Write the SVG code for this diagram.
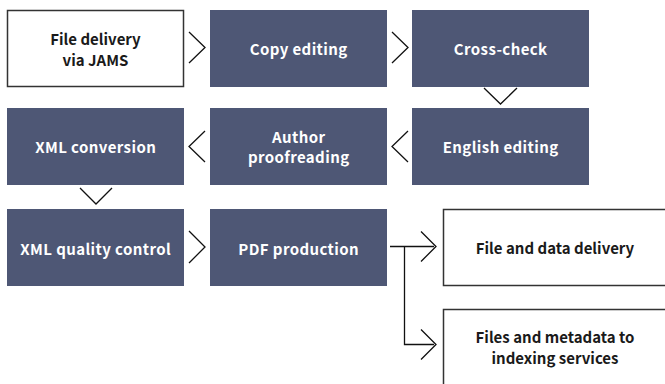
<svg xmlns="http://www.w3.org/2000/svg" width="665" height="384" viewBox="0 0 665 384">
<style>
.dark{fill:#4e5775}
.light{fill:#fff;stroke:#333;stroke-width:1.5}
text{font-family:"Noto Sans CJK JP","Noto Sans",sans-serif;font-weight:700;font-size:15px;text-anchor:middle}
.w{fill:#fff;letter-spacing:0.4px}
.b{fill:#1a1a1a}
.conn{fill:none;stroke:#111;stroke-width:1.3}
</style>
<rect width="665" height="384" fill="#fff"/>
<g id="n1"><rect class="light" x="7.5" y="10.5" width="176" height="76"/><text class="b" x="95.5" y="45">File delivery</text><text class="b" x="95.5" y="65.5">via JAMS</text></g>
<g id="n2"><rect class="dark" x="210" y="10" width="177" height="77"/><text class="w" x="298.7" y="55">Copy editing</text></g>
<g id="n3"><rect class="dark" x="412" y="10" width="177" height="77"/><text class="w" x="500.7" y="55">Cross-check</text></g>
<g id="n4"><rect class="dark" x="412" y="108" width="177" height="77"/><text class="w" x="500.7" y="153">English editing</text></g>
<g id="n5"><rect class="dark" x="210" y="108" width="177" height="77"/><text class="w" x="298.7" y="143">Author</text><text class="w" x="298.7" y="163">proofreading</text></g>
<g id="n6"><rect class="dark" x="7" y="108" width="177" height="77"/><text class="w" x="95.7" y="153">XML conversion</text></g>
<g id="n7"><rect class="dark" x="7" y="209" width="177" height="77"/><text class="w" x="95.7" y="255">XML quality control</text></g>
<g id="n8"><rect class="dark" x="210" y="209" width="177" height="77"/><text class="w" x="298.7" y="255">PDF production</text></g>
<g id="n9"><rect class="light" x="443.5" y="209.5" width="224" height="76"/><text class="b" x="555" y="254">File and data delivery</text></g>
<g id="n10"><rect class="light" x="443.5" y="309.5" width="224" height="77"/><text class="b" x="555" y="343">Files and metadata to</text><text class="b" x="555" y="364">indexing services</text></g>
<g id="connectors">
<polyline class="conn" points="189,32 205,47.5 189,63"/>
<polyline class="conn" points="392,32 408,47.5 392,63"/>
<polyline class="conn" points="484,88 500.5,104 517,88"/>
<polyline class="conn" points="408,131 392,146.5 408,162"/>
<polyline class="conn" points="205,131 189,146.5 205,162"/>
<polyline class="conn" points="80,188 96,204 112,188"/>
<polyline class="conn" points="189,231 205,247 189,263"/>
<polyline class="conn" points="421,231.5 436,246.5 421,261.5"/>
<polyline class="conn" points="421,329.5 436,344.5 421,359.5"/>
<polyline class="conn" points="390,246.5 434,246.5"/>
<polyline class="conn" points="404.5,246.5 404.5,344.5 434,344.5"/>
</g>
</svg>
